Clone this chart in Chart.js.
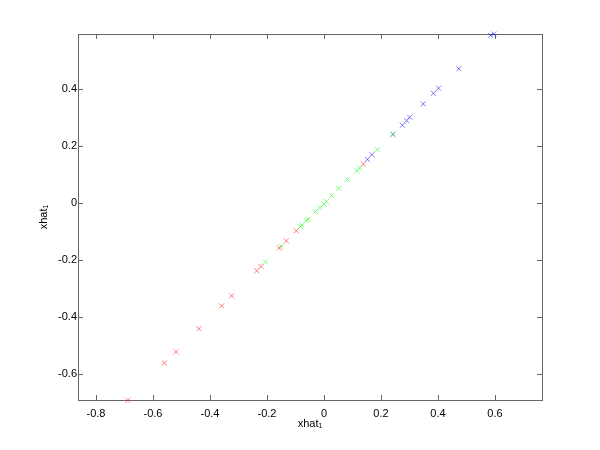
<!DOCTYPE html>
<html>
<head>
<meta charset="utf-8">
<script src="https://cdn.jsdelivr.net/npm/chart.js@4"></script>
<style>
html,body{margin:0;padding:0;background:#fff;}
#wrap{width:600px;height:450px;}
</style>
</head>
<body>
<div id="wrap"><canvas id="c" width="600" height="450"></canvas></div>
<script>
// Data
const redX   = [-0.688,-0.560,-0.519,-0.439,-0.359,-0.324,-0.236,-0.221,-0.157,-0.132,-0.097,0.138];
const redY   = [-0.691,-0.560,-0.521,-0.440,-0.360,-0.325,-0.237,-0.222,-0.157,-0.132,-0.097,0.137];
const greenX = [-0.205,-0.151,-0.083,-0.077,-0.061,-0.055,-0.030,-0.014,0.000,0.009,0.027,0.051,0.082,0.115,0.125,0.187,0.242];
const greenY = [-0.206,-0.152,-0.082,-0.077,-0.060,-0.056,-0.030,-0.015,-0.004,0.006,0.027,0.052,0.083,0.113,0.123,0.188,0.241];
const blueX  = [0.153,0.168,0.242,0.275,0.290,0.301,0.348,0.384,0.402,0.473,0.585,0.596];
const blueY  = [0.153,0.170,0.241,0.273,0.289,0.301,0.348,0.385,0.403,0.471,0.588,0.593];
const xTicks = [-0.8,-0.6,-0.4,-0.2,0,0.2,0.4,0.6];
const yTicks = [-0.6,-0.4,-0.2,0,0.2,0.4];
const xRange = [-0.863, 0.765];
const yRange = [-0.690, 0.593];
const xTitle = 'xhat\u2081';
const yTitle = 'xhat\u2081';

const pts = (xs, ys) => xs.map((x, i) => ({x: x, y: ys[i]}));
const fmt = v => String(Number(v.toFixed(1)));
const FONT = {family: '"Liberation Sans", Arial, Helvetica, sans-serif', size: 11};

const boxPlugin = {
  id: 'box',
  beforeDatasetsDraw(chart) {
    const {ctx, chartArea: a, scales} = chart;
    ctx.save();
    ctx.strokeStyle = '#666';
    ctx.lineWidth = 1;
    const L = 5;
    ctx.beginPath();
    scales.x.ticks.forEach(t => {
      const px = Math.round(scales.x.getPixelForValue(t.value)) + 0.5;
      ctx.moveTo(px, a.bottom); ctx.lineTo(px, a.bottom - L);
      ctx.moveTo(px, a.top); ctx.lineTo(px, a.top + L);
    });
    scales.y.ticks.forEach(t => {
      const py = Math.round(scales.y.getPixelForValue(t.value)) + 0.5;
      ctx.moveTo(a.left, py); ctx.lineTo(a.left + L, py);
      ctx.moveTo(a.right, py); ctx.lineTo(a.right - L, py);
    });
    ctx.stroke();
    ctx.strokeRect(Math.round(a.left) + 0.5, Math.round(a.top) + 0.5,
                   Math.round(a.right - a.left), Math.round(a.bottom - a.top));
    ctx.restore();
  }
};

const ds = (data, color) => ({
  data: data,
  showLine: false,
  clip: false,
  pointStyle: 'crossRot',
  pointRadius: 3.5,
  pointHoverRadius: 3.5,
  pointBorderWidth: 1,
  borderColor: color,
  backgroundColor: color
});

new Chart(document.getElementById('c'), {
  type: 'scatter',
  data: {
    datasets: [
      ds(pts(redX, redY), 'rgba(255,0,0,0.5)'),
      ds(pts(greenX, greenY), 'rgba(0,255,0,0.5)'),
      ds(pts(blueX, blueY), 'rgba(0,0,255,0.5)')
    ]
  },
  options: {
    responsive: false,
    animation: false,
    events: [],
    layout: {padding: {left: 0, top: 34, right: 58, bottom: 0}},
    plugins: {legend: {display: false}, tooltip: {enabled: false}},
    scales: {
      x: {
        type: 'linear',
        min: xRange[0], max: xRange[1],
        grid: {display: false, drawTicks: false},
        border: {display: false},
        afterBuildTicks: s => { s.ticks = xTicks.map(v => ({value: v})); },
        afterFit: s => { s.height = 50; },
        ticks: {color: '#000', font: FONT, padding: 7, maxRotation: 0, callback: v => fmt(v)},
        title: {display: true, text: xTitle, color: '#000', font: FONT, padding: {top: 0, bottom: 19}}
      },
      y: {
        type: 'linear',
        min: yRange[0], max: yRange[1],
        grid: {display: false, drawTicks: false},
        border: {display: false},
        afterBuildTicks: s => { s.ticks = yTicks.map(v => ({value: v})); },
        afterFit: s => { s.width = 78; },
        ticks: {color: '#000', font: FONT, padding: 1, callback: v => fmt(v)},
        title: {display: true, text: yTitle, color: '#000', font: FONT, padding: {top: 37, bottom: 0}}
      }
    }
  },
  plugins: [boxPlugin]
});
</script>
</body>
</html>
